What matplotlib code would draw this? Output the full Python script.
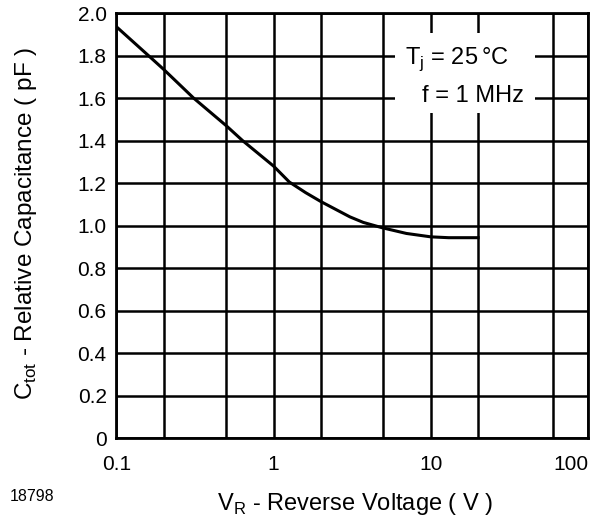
import matplotlib
matplotlib.use("Agg")
import matplotlib.pyplot as plt
from matplotlib.patches import Rectangle
from matplotlib.transforms import ScaledTranslation

plt.rcParams['font.family'] = ['Liberation Sans', 'DejaVu Sans']

# curve
v_r = [0.1, 0.16, 0.2, 0.31, 0.5, 0.635, 1.0, 1.26, 1.6, 2.0, 3.06, 3.72, 4.9, 7.0, 10, 13, 20]
c_tot = [1.936, 1.80, 1.735, 1.60, 1.47, 1.40, 1.28, 1.205, 1.155, 1.113, 1.041, 1.015, 0.99, 0.963, 0.947, 0.943, 0.943]

x_major = [0.1, 1, 10, 100]
x_major_labels = ['0.1', '1', '10', '100']
x_minor = [0.2, 0.5, 2, 5, 20, 60]
y_ticks = [0, 0.2, 0.4, 0.6, 0.8, 1.0, 1.2, 1.4, 1.6, 1.8, 2.0]
y_labels = ['0', '0.2', '0.4', '0.6', '0.8', '1.0', '1.2', '1.4', '1.6', '1.8', '2.0']

fig = plt.figure(figsize=(6.03, 5.24), dpi=100)
ax = fig.add_axes([0.193, 0.164, 0.782, 0.811])

ax.set_xscale('log')
ax.set_xlim(0.1, 100)
ax.set_ylim(0, 2.0)

ax.set_xticks(x_major)
ax.set_xticklabels(x_major_labels)
ax.set_xticks(x_minor, minor=True)
ax.set_yticks(y_ticks)
ax.set_yticklabels(y_labels)
ax.tick_params(which='both', length=0, labelsize=15)
ax.tick_params(axis='x', pad=12)
ax.tick_params(axis='y', pad=7)

ax.grid(True, which='both', color='black', linewidth=1.8, zorder=1)
ax.set_axisbelow(True)
for s in ax.spines.values():
    s.set_linewidth(2.0)

# last x label shifted left as in the datasheet
lab = ax.get_xticklabels()[-1]
lab.set_transform(lab.get_transform() + ScaledTranslation(-12 / 72, 0, fig.dpi_scale_trans))

# white patch behind the conditions text
ax.add_patch(Rectangle((0.591, 0.765), 0.297, 0.188, transform=ax.transAxes,
                       facecolor='white', edgecolor='none', zorder=2))
ax.text(0.613, 0.892, r'T$_\mathregular{j}$ = 25$\,$°C', transform=ax.transAxes,
        fontsize=17, va='center', ha='left', zorder=3)
ax.text(0.648, 0.806, 'f = 1 MHz', transform=ax.transAxes,
        fontsize=17, va='center', ha='left', zorder=3)

ax.plot(v_r, c_tot, color='black', linewidth=2.2, zorder=4)

ax.set_xlabel(r'V$_\mathregular{R}$ - Reverse Voltage ( V )', fontsize=17)
ax.set_ylabel(r'C$_\mathregular{tot}$ - Relative Capacitance ( pF )', fontsize=17.5)
ax.xaxis.set_label_coords(0.506, -0.125)
ax.yaxis.set_label_coords(-0.165, 0.506)

fig.text(0.016, 0.052, '18798', fontsize=11.5, va='center', ha='left')

fig.savefig('out.png', dpi=100)
